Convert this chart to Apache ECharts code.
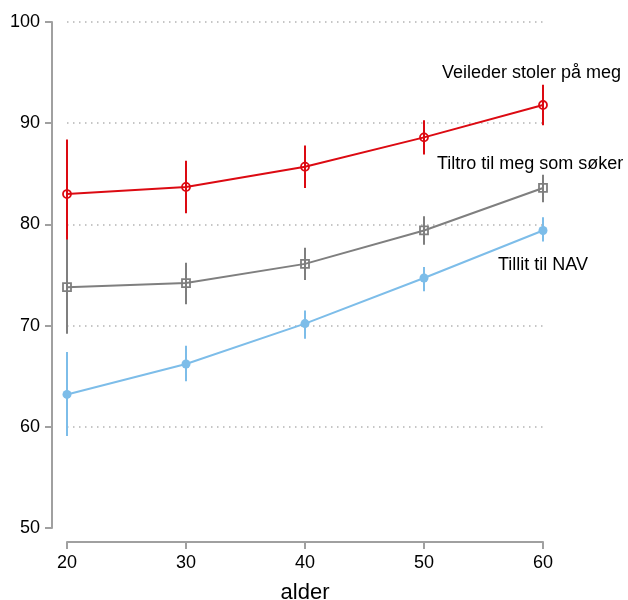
<!DOCTYPE html>
<html><head><meta charset="utf-8">
<script src="https://cdn.jsdelivr.net/npm/echarts@6/dist/echarts.min.js"></script>
<style>html,body{margin:0;padding:0;background:#fff}#c{width:628px;height:600px}</style>
</head><body><div id="c"></div>
<script>
const ages = [20, 30, 40, 50, 60];
const yTicks = [50, 60, 70, 80, 90, 100];
const seriesNames = ['Veileder stoler på meg', 'Tiltro til meg som søker', 'Tillit til NAV'];
const veilederMean = [83.0, 83.7, 85.7, 88.6, 91.8];
const veilederLow  = [77.7, 81.1, 83.6, 86.9, 89.8];
const veilederHigh = [88.4, 86.3, 87.8, 90.3, 93.8];
const tiltroMean = [73.8, 74.2, 76.1, 79.4, 83.6];
const tiltroLow  = [69.2, 72.1, 74.5, 78.0, 82.2];
const tiltroHigh = [78.5, 76.2, 77.7, 80.8, 84.9];
const tillitMean = [63.2, 66.2, 70.2, 74.7, 79.4];
const tillitLow  = [59.1, 64.5, 68.7, 73.4, 78.3];
const tillitHigh = [67.4, 68.0, 71.5, 75.8, 80.7];

const colors = ['#dc0a12', '#7f7f7f', '#7dbde9'];
const FONT = 'Liberation Sans, Arial, Helvetica, sans-serif';

function pairs(m){ return ages.map((a,i)=>[a,m[i]]); }
function errs(lo,hi){ return ages.map((a,i)=>[a,lo[i],hi[i]]); }

function errSeries(lo, hi, color){
  return {
    type:'custom', silent:true, z:1,
    data: errs(lo,hi),
    encode:{x:0,y:[1,2]},
    renderItem(params, api){
      const p1 = api.coord([api.value(0), api.value(1)]);
      const p2 = api.coord([api.value(0), api.value(2)]);
      return {type:'line', shape:{x1:p1[0],y1:p1[1],x2:p2[0],y2:p2[1]}, style:{stroke:color, lineWidth:2}};
    }
  };
}
function lineSeries(name, m, color, symbol, hollow, size){
  return {
    name, type:'line', data: pairs(m), z:2,
    symbol, symbolSize: size,
    showAllSymbol:true,
    lineStyle:{color, width:2},
    itemStyle:{color: hollow ? 'rgba(255,255,255,0)' : color, borderColor:color, borderWidth: hollow?1.8:0},
    emphasis:{disabled:true}
  };
}

const chart = echarts.init(document.getElementById('c'), null, {renderer:'canvas'});
chart.setOption({
  animation:false,
  grid:{left:67, right:85, top:22, bottom:72, containLabel:false, outerBoundsMode:'none'},
  xAxis:{
    type:'value', min:20, max:60, interval:10, offset:14,
    name:'alder', nameLocation:'middle', nameGap:40,
    nameTextStyle:{fontFamily:FONT, fontSize:22, color:'#000'},
    axisLine:{show:true, lineStyle:{color:'#a0a0a0', width:2}},
    axisTick:{show:true, length:7, lineStyle:{color:'#a0a0a0', width:2}},
    axisLabel:{fontFamily:FONT, fontSize:18, color:'#000', margin:12},
    splitLine:{show:false}
  },
  yAxis:{
    type:'value', min:50, max:100, interval:10, offset:15,
    axisLine:{show:true, lineStyle:{color:'#a0a0a0', width:2}},
    axisTick:{show:true, length:7, lineStyle:{color:'#a0a0a0', width:2}},
    axisLabel:{fontFamily:FONT, fontSize:18, color:'#000', margin:12},
    splitLine:{show:true, showMinLine:false, lineStyle:{color:'#b4b4b4', type:[1.5,4.5], width:1.5}}
  },
  graphic:[
    {type:'text', left:442, top:64, style:{text:seriesNames[0], font:'18px '+FONT, fill:'#000'}},
    {type:'text', left:437, top:155, style:{text:seriesNames[1], font:'18px '+FONT, fill:'#000'}},
    {type:'text', left:498, top:256, style:{text:seriesNames[2], font:'18px '+FONT, fill:'#000'}}
  ],
  series:[
    errSeries(veilederLow, veilederHigh, colors[0]),
    errSeries(tiltroLow, tiltroHigh, colors[1]),
    errSeries(tillitLow, tillitHigh, colors[2]),
    lineSeries(seriesNames[0], veilederMean, colors[0], 'circle', true, 8),
    lineSeries(seriesNames[1], tiltroMean, colors[1], 'rect', true, 8),
    lineSeries(seriesNames[2], tillitMean, colors[2], 'circle', false, 9)
  ]
});
</script></body></html>
